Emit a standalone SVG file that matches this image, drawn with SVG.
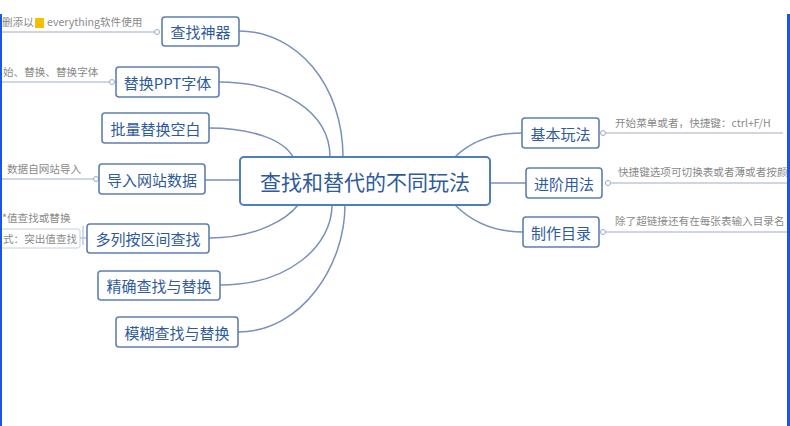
<svg xmlns="http://www.w3.org/2000/svg" width="790" height="426" viewBox="0 0 790 426">
<defs>
<style>
.node rect{fill:#fff;stroke:#5f7fb0;stroke-width:1.6}
.node text{font-family:"Noto Sans CJK SC","Noto Sans",sans-serif;font-size:15px;fill:#2f5b9a;text-anchor:middle;dominant-baseline:central}
.center rect{fill:#fff;stroke:#4f7fba;stroke-width:2}
.center text{font-size:21px;fill:#2f5b9a}
.conn path,.conn line{fill:none;stroke:#7890bb;stroke-width:1.5}
.note line,.note path{stroke:#bfc8d8;stroke-width:1.4;fill:none}
.note circle{fill:#fff;stroke:#9aabc8;stroke-width:1}
.note text{font-family:"Noto Sans CJK SC","Noto Sans",sans-serif;font-size:10.6px;fill:#8a8a8a}
.note rect.nb{fill:#fff;stroke:#c8cfdc;stroke-width:1}
</style>
<clipPath id="clip"><rect x="0" y="0" width="787" height="426"/></clipPath>
</defs>
<rect width="790" height="426" fill="#fff"/>
<g class="conn">
<path d="M239,31 C297,31 343,85 343,157"/>
<path d="M219,82 C282,82 330,112 330,157"/>
<path d="M209,128 C252,128 284,140 293,157"/>
<line x1="205" y1="180" x2="240" y2="180"/>
<path d="M209,238 C258,238 288,218 298,205"/>
<path d="M220,285 C290,285 332,245 332,205"/>
<path d="M238,332 C302,332 345,265 345,205"/>
<path d="M455,157 C472,140 495,133 522,133"/>
<line x1="490" y1="183" x2="526" y2="183"/>
<path d="M455,205 C472,222 495,232 523,232"/>
</g>
<g class="note" clip-path="url(#clip)">
<line x1="0" y1="32" x2="155" y2="32"/>
<circle cx="157" cy="32" r="2.5"/>
<text x="2" y="26">删添以</text>
<rect x="35" y="18" width="9" height="10" fill="#f5c000"/>
<text x="47" y="26">everything软件使用</text>
<line x1="0" y1="82" x2="110" y2="82"/>
<circle cx="112" cy="82" r="2.5"/>
<text x="3" y="76">始、替换、替换字体</text>
<line x1="0" y1="179" x2="94" y2="179"/>
<circle cx="96" cy="179" r="2.5"/>
<text x="7" y="173">数据自网站导入</text>
<text x="2" y="222">*值查找或替换</text>
<rect class="nb" x="-2" y="229" width="82" height="19" rx="2"/>
<text x="3" y="243">式：突出值查找</text>
<path d="M80,238 L87,238 M83,226 L83,245"/>
<line x1="605" y1="133" x2="783" y2="133"/>
<circle cx="603" cy="133" r="2.5"/>
<text x="615" y="127">开始菜单或者，快捷键：ctrl+F/H</text>
<line x1="610" y1="183" x2="790" y2="183"/>
<circle cx="608" cy="183" r="2.5"/>
<text x="618" y="176">快捷键选项可切换表或者薄或者按颜</text>
<line x1="605" y1="232" x2="790" y2="232"/>
<circle cx="603" cy="232" r="2.5"/>
<text x="615" y="225">除了超链接还有在每张表输入目录名</text>
</g>
<g id="n-center" class="node center"><rect x="240" y="157" width="250" height="48" rx="4"/><text x="365" y="181">查找和替代的不同玩法</text></g>
<g id="n1" class="node"><rect x="162" y="17" width="77" height="29" rx="3"/><text x="200.5" y="31.5">查找神器</text></g>
<g id="n2" class="node"><rect x="116" y="67" width="103" height="30" rx="3"/><text x="167.5" y="82">替换PPT字体</text></g>
<g id="n3" class="node"><rect x="102" y="113" width="107" height="30" rx="3"/><text x="155.5" y="128">批量替换空白</text></g>
<g id="n4" class="node"><rect x="99" y="164" width="106" height="30" rx="3"/><text x="152" y="179">导入网站数据</text></g>
<g id="n5" class="node"><rect x="87" y="224" width="122" height="29" rx="3"/><text x="148" y="238.5">多列按区间查找</text></g>
<g id="n6" class="node"><rect x="98" y="271" width="122" height="29" rx="3"/><text x="159" y="285.5">精确查找与替换</text></g>
<g id="n7" class="node"><rect x="116" y="317" width="122" height="30" rx="3"/><text x="177" y="332">模糊查找与替换</text></g>
<g id="n8" class="node"><rect x="522" y="118" width="77" height="30" rx="3"/><text x="560.5" y="133">基本玩法</text></g>
<g id="n9" class="node"><rect x="526" y="168" width="76" height="30" rx="3"/><text x="564" y="183">进阶用法</text></g>
<g id="n10" class="node"><rect x="523" y="217" width="76" height="30" rx="3"/><text x="561" y="232">制作目录</text></g>
<rect x="0" y="14" width="2" height="412" fill="#1a55e6"/>
<rect x="787" y="14" width="3" height="412" fill="#1a55e6"/>
</svg>
